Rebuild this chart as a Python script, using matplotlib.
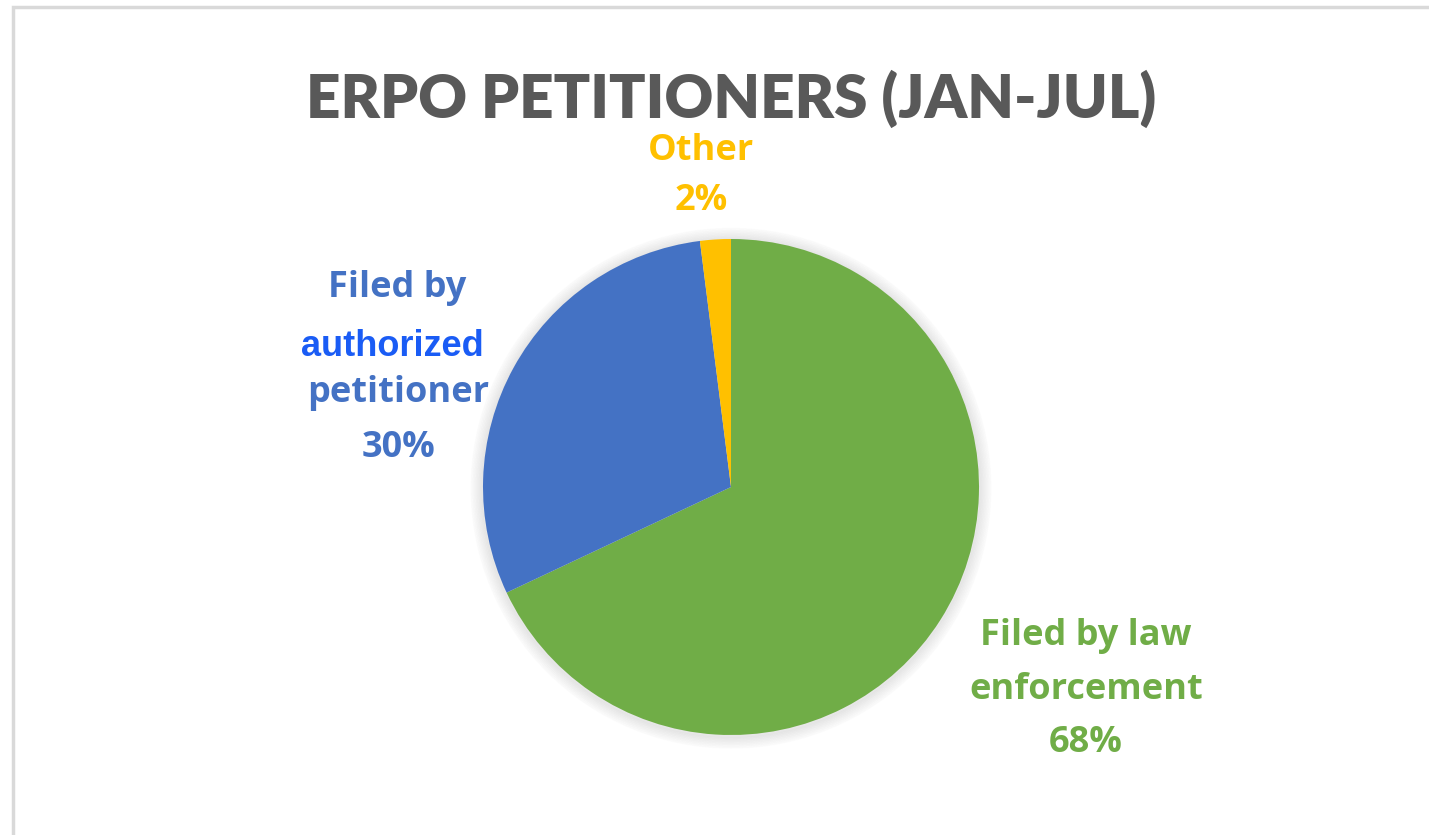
import matplotlib
matplotlib.use("Agg")
import matplotlib.pyplot as plt
from matplotlib.patches import Rectangle, Circle

categories = ["Filed by law enforcement", "Filed by authorized petitioner", "Other"]
shares = [68, 30, 2]
colors = ["#70AD47", "#4472C4", "#FFC000"]

W, H = 1429, 835
fig = plt.figure(figsize=(W / 100, H / 100), dpi=100)
fig.patch.set_facecolor("white")

# light gray frame (runs off the right and bottom edge like the screenshot)
fig.patches.append(Rectangle((13 / W, -0.1), 1.2, 1 - 7 / H + 0.1, transform=fig.transFigure,
                             fill=False, edgecolor="#D9D9D9", linewidth=2.5))

cx, cy, r = 731, 487, 248
ax = fig.add_axes([(cx - r) / W, (H - cy - r) / H, 2 * r / W, 2 * r / H])
ax.set_xlim(-1, 1)
ax.set_ylim(-1, 1)
ax.set_aspect("equal")
ax.axis("off")

# soft shadow
for k in range(8):
    ax.add_patch(Circle((0, -0.005), 1.0 + 0.006 * (k + 1), color="#000000",
                        alpha=0.012, zorder=0, clip_on=False))

ax.pie(shares, colors=colors, startangle=90, counterclock=False, radius=1,
       wedgeprops=dict(linewidth=0), center=(0, 0), frame=False)
ax.set_xlim(-1, 1)
ax.set_ylim(-1, 1)


def px(x, y):
    return (x - cx) / r, (cy - y) / r


font = dict(family=["Open Sans", "DejaVu Sans"], fontweight="bold", ha="center",
            va="center", fontsize=26)

fig.text(cx / W, 1 - 99 / H, "ERPO PETITIONERS (JAN-JUL)", ha="center", va="center",
         family=["Lato", "DejaVu Sans"], fontweight="heavy", fontsize=43.3, color="#595959")

# Other
ax.text(*px(701, 151), "Other", color=colors[2], clip_on=False, **font)
ax.text(*px(701, 201), f"{shares[2]}%", color=colors[2], clip_on=False, **font)

# authorized petitioner
ax.text(*px(397, 288), "Filed by", color=colors[1], clip_on=False, **font)
ax.text(*px(392, 347), "authorized", color="#1A5CF5", clip_on=False, ha="center",
        va="center", family=["Liberation Sans", "DejaVu Sans"], fontweight="bold", fontsize=26)
ax.text(*px(398, 393), "petitioner", color=colors[1], clip_on=False, **font)
ax.text(*px(398, 448), f"{shares[1]}%", color=colors[1], clip_on=False, **font)

# law enforcement
ax.text(*px(1086, 636), "Filed by law", color=colors[0], clip_on=False, **font)
ax.text(*px(1086, 690), "enforcement", color=colors[0], clip_on=False, **font)
ax.text(*px(1086, 743), f"{shares[0]}%", color=colors[0], clip_on=False, **font)

fig.savefig("out.png", dpi=100, facecolor="white")
